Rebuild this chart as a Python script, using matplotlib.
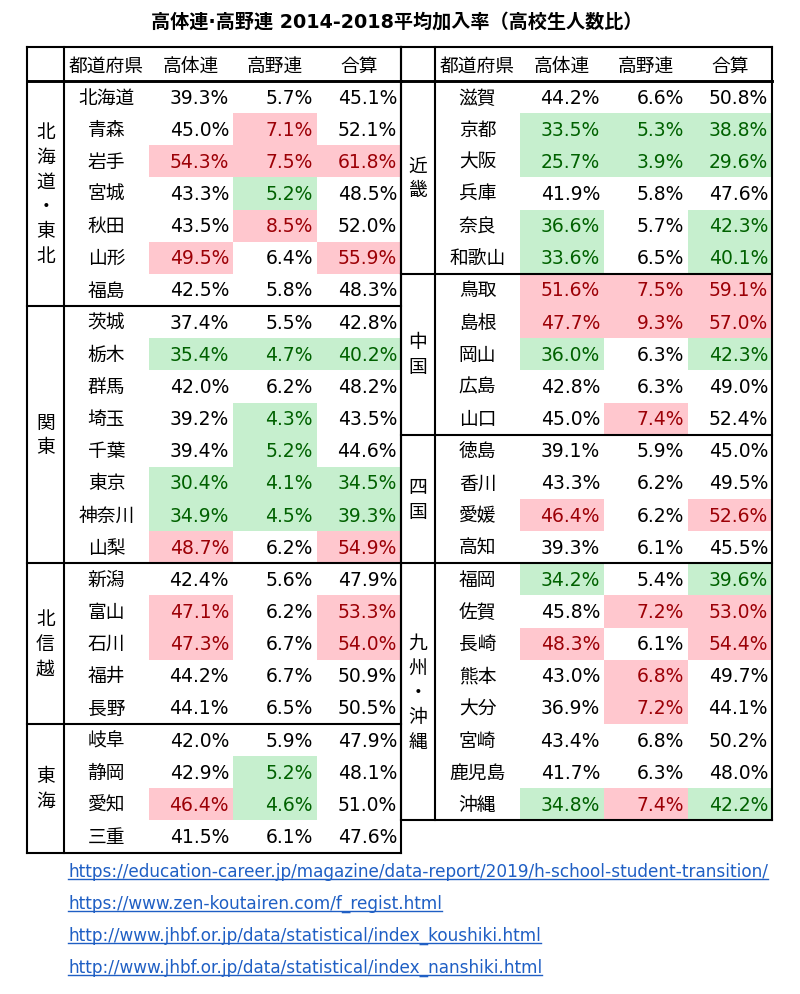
# 高体連・高野連 加入率 table

import matplotlib
matplotlib.use("Agg")
import matplotlib.pyplot as plt
from matplotlib.patches import Rectangle

plt.rcParams['font.family'] = ['DejaVu Sans', 'Noto Sans CJK JP']

# --------------------------------------------------
# data
# --------------------------------------------------
headers = ["都道府県", "高体連", "高野連", "合算"]

regions_left = ["北海道・東北", "関東", "北信越", "東海"]
region_rows_left = [7, 8, 5, 4]
pref_left = ["北海道", "青森", "岩手", "宮城", "秋田", "山形", "福島",
             "茨城", "栃木", "群馬", "埼玉", "千葉", "東京", "神奈川", "山梨",
             "新潟", "富山", "石川", "福井", "長野",
             "岐阜", "静岡", "愛知", "三重"]
taitairen_left = [39.3, 45.0, 54.3, 43.3, 43.5, 49.5, 42.5,
                  37.4, 35.4, 42.0, 39.2, 39.4, 30.4, 34.9, 48.7,
                  42.4, 47.1, 47.3, 44.2, 44.1,
                  42.0, 42.9, 46.4, 41.5]
yakyu_left = [5.7, 7.1, 7.5, 5.2, 8.5, 6.4, 5.8,
              5.5, 4.7, 6.2, 4.3, 5.2, 4.1, 4.5, 6.2,
              5.6, 6.2, 6.7, 6.7, 6.5,
              5.9, 5.2, 4.6, 6.1]
total_left = [45.1, 52.1, 61.8, 48.5, 52.0, 55.9, 48.3,
              42.8, 40.2, 48.2, 43.5, 44.6, 34.5, 39.3, 54.9,
              47.9, 53.3, 54.0, 50.9, 50.5,
              47.9, 48.1, 51.0, 47.6]
# conditional formatting per row: r = high (red), g = low (green), - = none
mark_left = ["---", "-r-", "rrr", "-g-", "-r-", "r-r", "---",
             "---", "ggg", "---", "-g-", "-g-", "ggg", "ggg", "r-r",
             "---", "r-r", "r-r", "---", "---",
             "---", "-g-", "rg-", "---"]

regions_right = ["近畿", "中国", "四国", "九州・沖縄"]
region_rows_right = [6, 5, 4, 8]
pref_right = ["滋賀", "京都", "大阪", "兵庫", "奈良", "和歌山",
              "鳥取", "島根", "岡山", "広島", "山口",
              "徳島", "香川", "愛媛", "高知",
              "福岡", "佐賀", "長崎", "熊本", "大分", "宮崎", "鹿児島", "沖縄"]
taitairen_right = [44.2, 33.5, 25.7, 41.9, 36.6, 33.6,
                   51.6, 47.7, 36.0, 42.8, 45.0,
                   39.1, 43.3, 46.4, 39.3,
                   34.2, 45.8, 48.3, 43.0, 36.9, 43.4, 41.7, 34.8]
yakyu_right = [6.6, 5.3, 3.9, 5.8, 5.7, 6.5,
               7.5, 9.3, 6.3, 6.3, 7.4,
               5.9, 6.2, 6.2, 6.1,
               5.4, 7.2, 6.1, 6.8, 7.2, 6.8, 6.3, 7.4]
total_right = [50.8, 38.8, 29.6, 47.6, 42.3, 40.1,
               59.1, 57.0, 42.3, 49.0, 52.4,
               45.0, 49.5, 52.6, 45.5,
               39.6, 53.0, 54.4, 49.7, 44.1, 50.2, 48.0, 42.2]
mark_right = ["---", "ggg", "ggg", "---", "g-g", "g-g",
              "rrr", "rrr", "g-g", "---", "-r-",
              "---", "---", "r-r", "---",
              "g-g", "-rr", "r-r", "-r-", "-r-", "---", "---", "grg"]

title = "高体連·高野連 2014-2018平均加入率（高校生人数比）"
sources = [
    "https://education-career.jp/magazine/data-report/2019/h-school-student-transition/",
    "https://www.zen-koutairen.com/f_regist.html",
    "http://www.jhbf.or.jp/data/statistical/index_koushiki.html",
    "http://www.jhbf.or.jp/data/statistical/index_nanshiki.html",
]

# --------------------------------------------------
# layout (pixel units)
# --------------------------------------------------
W, H = 800, 995
top = 48
header_h = 34
row_h = 32.15
x_left = [27, 64, 149, 233, 317, 401]
x_right = [401, 435, 520, 604, 688, 772]

fill = {'r': '#FFC7CE', 'g': '#C6EFCE'}
ink = {'r': '#9C0006', 'g': '#006100', '-': '#000000'}
fs = 13.5
lw = 1.5

fig = plt.figure(figsize=(W / 100, H / 100), dpi=100)
ax = fig.add_axes([0, 0, 1, 1])
ax.set_xlim(0, W)
ax.set_ylim(H, 0)
ax.axis('off')


def draw_table(xs, regions, counts, prefs, c1, c2, c3, marks):
    y0 = top + header_h
    n = len(prefs)
    bottom = y0 + n * row_h

    # header
    for j, h in enumerate(headers):
        ax.text((xs[j + 1] + xs[j + 2]) / 2, top + header_h / 2 + 1, h,
                ha='center', va='center', fontsize=fs)

    # rows
    for i in range(n):
        yc = y0 + (i + 0.5) * row_h
        ax.text((xs[1] + xs[2]) / 2, yc, prefs[i], ha='center', va='center', fontsize=fs)
        for j, v in enumerate([c1[i], c2[i], c3[i]]):
            m = marks[i][j]
            if m in fill:
                ax.add_patch(Rectangle((xs[j + 2], y0 + i * row_h), xs[j + 3] - xs[j + 2], row_h,
                                       facecolor=fill[m], edgecolor='none', zorder=0))
            ax.text(xs[j + 3] - 4, yc, f"{v:.1f}%", ha='right', va='center',
                    fontsize=fs, color=ink[m])

    # region labels + separators
    start = 0
    for name, cnt in zip(regions, counts):
        ya = y0 + start * row_h
        yb = y0 + (start + cnt) * row_h
        ax.text((xs[0] + xs[1]) / 2, (ya + yb) / 2, "\n".join(name),
                ha='center', va='center', fontsize=fs, linespacing=1.38)
        ax.plot([xs[0], xs[-1]], [yb, yb], color='black', lw=lw)
        start += cnt

    # borders
    ax.plot([xs[0], xs[-1]], [top, top], color='black', lw=lw)
    ax.plot([xs[0], xs[-1]], [y0, y0], color='black', lw=lw + 0.6)
    for x in (xs[0], xs[1], xs[-1]):
        ax.plot([x, x], [top, bottom], color='black', lw=lw)


draw_table(x_left, regions_left, region_rows_left, pref_left,
           taitairen_left, yakyu_left, total_left, mark_left)
draw_table(x_right, regions_right, region_rows_right, pref_right,
           taitairen_right, yakyu_right, total_right, mark_right)

ax.text(397, 22, title, ha='center', va='center', fontsize=13.8, fontweight='bold')

# source links
link_color = '#1F5FC4'
link_texts = []
for k, s in enumerate(sources):
    t = ax.text(68, 872 + k * 32, s, ha='left', va='center', fontsize=12.2, color=link_color)
    link_texts.append(t)

fig.canvas.draw()
inv = ax.transData.inverted()
for t in link_texts:
    bb = t.get_window_extent()
    (xa, ya), (xb, yb) = inv.transform([(bb.x0, bb.y0), (bb.x1, bb.y0)])
    ax.plot([xa, xb], [ya - 1, yb - 1], color=link_color, lw=1)

fig.savefig("out.png", dpi=100, facecolor='white')
